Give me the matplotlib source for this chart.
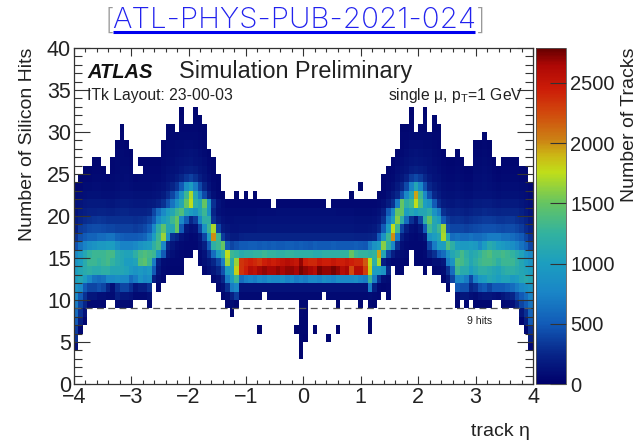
import numpy as np
import matplotlib
matplotlib.use("Agg")
import matplotlib.pyplot as plt
from matplotlib.colors import LinearSegmentedColormap, Normalize
from matplotlib.ticker import MultipleLocator

plt.rcParams['font.family'] = ['Liberation Sans', 'DejaVu Sans']
plt.rcParams['mathtext.fontset'] = 'custom'
plt.rcParams['mathtext.rm'] = 'Liberation Sans'
plt.rcParams['mathtext.it'] = 'Liberation Sans:italic'
plt.rcParams['mathtext.bf'] = 'Liberation Sans:bold'

_ = [0] * 10  # an empty decade of eta bins

# Tracks per (eta bin, hit count); eta bins are grouped in tens, from eta = -4 upward
hits3 = _*4 + [0,0,0,0,0,0,0,0,0,40] + _*5
hits4 = [100,0,0,0,0,0,0,0,0,0] + _*3 + [0,0,0,0,0,0,0,0,0,40] + _*4 + [0,0,0,0,0,0,0,0,0,60]
hits5 = [300,0,0,0,0,0,0,0,0,0] + _*3 + [0,0,0,0,0,0,0,0,0,50] + [40,0,0,0,0,40,0,0,0,0] + _*3 + [0,0,0,0,0,0,0,0,0,200]
hits6 = [350,60,0,0,0,0,0,0,0,0] + _*3 + [40,0,0,0,0,0,0,0,40,50] + [50,0,40,0,0,0,0,40,0,0] + [0,0,0,0,40,0,0,0,0,0] + _*2 + [0,0,0,0,0,0,0,0,50,300]
hits7 = [500,200,60,0,0,0,0,0,0,0] + _*3 + [0,0,0,0,0,0,0,0,0,50] + [50,0,0,0,0,0,0,0,0,0] + [0,0,0,0,40,0,0,0,0,0] + _*2 + [0,0,0,0,0,0,0,50,200,500]
hits8 = [600,300,120,0,0,0,0,0,0,0] + _*2 + [0,0,0,0,50,0,0,0,0,0] + [0,0,0,0,0,0,0,0,0,60] + [50,0,0,0,0,0,0,0,0,0] + _*3 + [0,0,0,0,0,0,0,150,300,550]
hits9 = [700,400,250,70,70,70,60,0,0,70] + [70,70,60,0,0,0,60,0,0,0] + _ + [0,0,0,50,80,50,0,0,0,0] + [0,0,0,0,0,0,0,0,0,70] + [70,0,0,0,0,0,0,50,0,0] + [0,0,50,0,60,50,0,0,0,0] + _ + [0,0,0,60,0,60,0,50,50,50] + [50,0,0,60,70,100,250,400,500,650]
hits10 = [800,500,300,150,150,100,100,80,80,200] + [150,150,120,70,70,70,100,0,0,0] + _ + [0,0,50,80,200,350,70,70,70,70] + [70,0,70,70,70,70,70,70,70,70] + [70,70,70,70,0,70,70,70,70,70] + [70,70,70,70,80,70,60,0,50,0] + _ + [0,0,0,100,150,150,100,80,120,150] + [150,120,100,150,200,250,400,500,600,750]
hits11 = [900,800,500,400,400,450,400,250,100,300] + [400,400,300,150,200,200,300,0,60,0] + _ + [0,60,100,300,700,800,120,120,130,120] + [130,120,130,130,130,130,120,120,120,120] + [120,120,120,120,120,120,120,120,120,120] + [120,130,130,120,700,200,60,50,60,0] + _ + [0,50,0,500,450,450,250,300,450,500] + [400,500,500,500,550,600,700,800,850,900]
hits12 = [1000,1100,1000,800,650,600,650,800,800,850] + [800,800,600,700,900,800,850,200,100,60] + _ + [70,100,250,700,1000,1300,600,700,750,700] + [800,750,850,800,800,850,750,800,700,750] + [700,800,800,750,850,800,750,850,800,800] + [800,850,750,700,1300,700,300,100,80,0] + _ + [50,150,400,800,850,700,400,750,950,1000] + [1100,1050,1000,1050,1050,950,1000,1100,1150,1100]
hits13 = [1000,1100,1150,1200,1150,1150,1200,1200,1100,1100] + [1100,1050,950,900,950,900,950,500,150,70] + [60,50,50,50,0,0,0,0,60,100] + [150,250,450,1000,1100,1800,2350,2450,2600,2550] + [2650,2700,2650,2650,2700,2650,2700,2700,2650,2750] + [2700,2650,2600,2750,2700,2700,2750,2700,2600,2650] + [2250,2600,2600,2300,1800,1000,1000,900,250,0] + [60,60,0,0,0,0,50,0,50,60] + [80,300,600,1300,1150,1150,1000,1100,1200,1200] + [1150,1100,1050,1150,1200,1200,1150,1100,1050,1000]
hits14 = [900,1000,1150,1300,1300,1250,1300,1350,1250,1150] + [1100,1000,1000,1050,1400,1450,1300,700,200,80] + [70,60,60,60,0,0,0,60,100,150] + [250,400,700,1650,1150,1650,2350,2400,2450,2400] + [2350,2450,2500,2450,2500,2550,2600,2550,2500,2700] + [2450,2400,2400,2500,2450,2450,2500,2450,2450,2500] + [2450,2400,2400,2200,1750,1200,1700,200,100,60] + [70,60,50,0,50,50,60,60,100,100] + [150,700,900,1400,1350,1250,1100,1200,1300,1350] + [1350,1300,1200,1300,1300,1300,1200,1100,1000,900]
hits15 = [800,950,1100,1250,1300,1300,1300,1350,1350,1150] + [1100,1050,1050,1200,1350,1400,1350,1300,900,500] + [150,100,70,60,50,50,0,70,120,300] + [600,1000,1200,1750,1300,1250,1150,1200,1200,1250] + [1250,1300,1250,1250,1200,1200,1250,1250,1200,1200] + [1200,1200,1150,1150,1200,1200,1200,1200,1250,1250] + [1500,1300,1250,1250,1200,1250,1950,1100,400,200] + [100,80,70,0,50,50,70,200,300,500] + [600,900,1100,1200,1350,1200,1100,1150,1250,1350] + [1400,1300,1300,1350,1300,1250,1150,1050,900,800]
hits16 = [450,650,750,850,900,950,950,1000,1000,850] + [750,750,750,800,900,950,1000,1200,1350,800] + [250,150,90,70,60,60,60,100,200,500] + [1200,1300,1500,500,400,450,500,500,520,520] + [500,520,500,520,500,500,520,520,500,520] + [500,480,520,500,500,500,520,500,500,500] + [500,520,500,480,700,900,1000,1600,1200,800] + [300,100,70,60,60,60,70,400,700,1000] + [1000,1400,1200,1000,950,950,1000,950,800,1000] + [1150,1100,1000,950,900,850,750,650,550,400]
hits17 = [300,450,500,550,550,600,600,650,650,550] + [520,500,500,500,520,560,700,1000,1300,1650] + [900,300,250,120,80,60,70,150,400,1000] + [2000,1300,350,220,180,180,220,230,230,230] + [230,230,230,230,230,230,230,230,230,230] + [230,230,230,230,230,230,230,230,230,230] + [230,220,220,220,230,260,500,900,1300,2000] + [700,200,100,70,60,80,150,900,1000,1100] + [1700,1100,600,650,600,600,650,600,600,650] + [700,700,700,650,650,600,550,500,400,300]
hits18 = [200,350,380,420,430,430,420,400,400,380] + [380,380,380,350,380,420,500,800,1200,1450] + [1100,1100,1500,500,150,100,130,400,900,1300] + [1700,400,180,150,130,130,140,140,140,140] + [150,150,150,150,150,150,150,150,150,150] + [150,150,150,150,150,150,150,150,150,150] + [150,140,140,140,150,170,250,500,1000,1750] + [1300,400,200,100,80,150,500,1300,1100,1300] + [1650,450,400,400,400,380,400,420,430,450] + [450,450,430,420,430,430,400,350,280,220]
hits19 = [180,250,280,300,320,330,320,300,300,300] + [300,300,300,290,300,320,380,500,800,1000] + [1100,1300,1500,800,500,250,350,800,1200,1200] + [300,180,120,100,100,110,110,110,110,110] + [120,120,120,120,130,130,130,130,130,130] + [130,130,130,130,130,130,130,120,120,120] + [120,110,110,110,110,120,160,300,700,1000] + [1600,1200,600,300,150,400,1200,1500,1100,1000] + [500,350,300,310,300,280,300,320,330,350] + [350,340,320,320,330,330,300,280,230,170]
hits20 = [130,180,200,220,220,230,230,220,210,230] + [240,240,220,220,220,220,250,400,600,800] + [1000,1100,1300,1400,1100,1000,900,1100,1300,900] + [250,110,90,80,80,80,80,80,80,80] + [90,90,90,90,100,100,100,100,100,100] + [100,100,100,100,100,100,100,90,90,90] + [90,80,80,80,80,90,110,200,500,800] + [1500,1500,1000,1100,1000,1100,1100,1200,900,700] + [300,250,220,230,220,200,220,250,250,270] + [260,240,230,240,240,250,240,210,170,130]
hits21 = [120,140,160,170,170,170,170,160,150,170] + [180,180,170,160,160,160,170,180,220,300] + [450,650,900,1100,1500,1750,1200,1100,1500,900] + [300,120,80,60,60,60,60,60,60,60] + [60,60,60,0,60,60,60,60,60,60] + [60,60,60,60,60,0,60,60,60,60] + [60,60,60,60,60,60,70,100,180,300] + [700,1500,1200,1300,1750,1400,1000,900,500,280] + [180,160,150,170,160,150,160,180,180,190] + [190,170,160,170,170,170,170,150,130,100]
hits22 = [80,90,100,110,110,110,100,100,100,110] + [120,120,120,110,110,110,110,120,140,180] + [280,400,600,900,1300,1700,1100,700,420,220] + [100,60,50,0,0,50,0,50,0,50] + _*2 + [50,0,0,0,0,0,50,60,100,170] + [260,450,800,1100,1950,1300,800,450,260,180] + [120,110,110,120,110,100,100,120,120,130] + [130,110,100,110,110,110,110,100,90,70]
hits23 = [50,60,80,80,90,90,80,80,80,90] + [100,100,90,80,80,80,80,90,100,120] + [170,230,320,500,850,1000,700,420,250,130] + [70,50,0,0,0,0,0,0,0,0] + _*2 + [0,0,50,0,0,0,0,50,70,100] + [170,260,420,750,1100,800,450,260,180,140] + [100,90,90,100,90,80,80,100,100,110] + [100,90,80,90,90,90,90,80,80,60]
hits24 = [0,50,60,60,70,70,70,60,70,80] + [80,90,80,60,70,70,70,70,70,90] + [120,140,180,250,320,380,300,200,140,90] + [60,50,0,0,0,0,0,0,0,0] + _*2 + [0,0,0,0,0,0,0,50,60,70] + [110,150,220,350,420,350,260,170,130,110] + [80,70,70,80,70,60,60,90,90,100] + [90,70,60,70,70,70,70,60,60,0]
hits25 = [0,0,50,50,60,60,50,0,60,70] + [80,80,70,0,0,60,60,60,60,80] + [100,110,130,160,190,200,180,140,110,70] + [50,0,0,0,0,0,0,0,0,0] + _*2 + [0,0,0,0,0,0,0,0,50,60] + [90,110,140,190,210,190,170,130,110,90] + [70,60,60,70,60,50,50,80,80,90] + [80,60,50,60,60,60,60,50,50,0]
hits26 = [0,0,0,0,50,50,0,0,60,70] + [70,70,60,0,50,50,50,50,50,70] + [80,90,110,120,140,150,130,110,90,60] + [50,0,0,0,0,0,0,0,0,0] + _*2 + [0,0,0,0,0,0,0,0,0,50] + [70,90,110,140,150,140,130,110,90,80] + [60,50,50,60,50,0,0,70,70,80] + [70,50,0,50,50,50,50,0,0,0]
hits27 = [0,0,0,0,0,0,0,0,0,60] + [70,60,50,0,0,0,0,0,0,60] + [70,80,90,100,110,120,110,90,70,50] + _*4 + [50,70,90,110,120,110,100,100,80,70] + [50,0,0,50,0,0,0,60,60,70] + [60,0,0,0,0,0,0,0,0,0]
hits28 = [0,0,0,0,0,0,0,0,0,50] + [60,50,0,0,0,0,0,0,0,50] + [70,70,80,80,90,90,80,70,60,0] + _*4 + [0,60,70,90,90,90,80,80,70,60] + [0,0,0,0,0,0,0,50,50,60] + [50,0,0,0,0,0,0,0,0,0]
hits29 = _ + [60,0,0,0,0,0,0,0,0,0] + [50,60,60,70,70,70,70,60,50,0] + _*4 + [0,60,60,70,70,70,70,70,60,60] + [0,0,0,0,0,0,0,0,0,50] + _
hits30 = _ + [50,0,0,0,0,0,0,0,0,0] + [50,50,0,60,60,60,60,50,50,0] + _*4 + [0,50,50,60,0,60,60,0,50,50] + _*2
hits31 = _*2 + [0,0,0,50,0,0,50,50,0,0] + _*4 + [0,0,0,50,0,0,50,0,50,0] + _*2
hits32 = _*2 + [0,0,0,40,0,0,40,0,0,0] + _*4 + [0,0,0,40,0,0,40,0,0,0] + _*2

rows = [hits3, hits4, hits5, hits6, hits7, hits8, hits9, hits10, hits11, hits12, hits13,
        hits14, hits15, hits16, hits17, hits18, hits19, hits20, hits21, hits22, hits23,
        hits24, hits25, hits26, hits27, hits28, hits29, hits30, hits31, hits32]
for n, r in enumerate(rows):
    assert len(r) == 100, (n + 3, len(r))

first_hit_bin = 3
eta_edges = np.linspace(-4, 4, 101)
hit_edges = np.arange(first_hit_bin, first_hit_bin + len(rows) + 1)
counts = np.ma.masked_equal(np.array(rows, dtype=float), 0)

eta_ticks = [-4, -3, -2, -1, 0, 1, 2, 3, 4]
hit_ticks = [0, 5, 10, 15, 20, 25, 30, 35, 40]
bar_ticks = [0, 500, 1000, 1500, 2000, 2500]
z_max = 2790
hit_cut = 9

palette = [(0.00, (0.00, 0.00, 0.42)), (0.09, (0.03, 0.15, 0.54)), (0.18, (0.07, 0.36, 0.72)),
           (0.27, (0.10, 0.52, 0.78)), (0.36, (0.11, 0.62, 0.75)), (0.45, (0.20, 0.70, 0.62)),
           (0.54, (0.40, 0.77, 0.38)), (0.63, (0.75, 0.87, 0.10)), (0.68, (0.80, 0.72, 0.08)),
           (0.73, (0.80, 0.50, 0.08)), (0.81, (0.82, 0.28, 0.05)), (0.88, (0.80, 0.11, 0.03)),
           (0.95, (0.68, 0.03, 0.02)), (1.00, (0.40, 0.00, 0.00))]
cmap = LinearSegmentedColormap.from_list('root_pal', palette, N=256)
norm = Normalize(0, z_max)

W, H = 644, 442
fig = plt.figure(figsize=(W / 100, H / 100), dpi=100)

def rect(x0, y0, x1, y1):
    return [x0 / W, 1 - y1 / H, (x1 - x0) / W, (y1 - y0) / H]

def fx(x):
    return x / W

def fy(y):
    return 1 - y / H

ax = fig.add_axes(rect(73.7, 48, 533, 384))
mesh = ax.pcolormesh(eta_edges, hit_edges, counts, cmap=cmap, norm=norm, linewidth=0, rasterized=True)
ax.set_xlim(-4, 4)
ax.set_ylim(0, 40)
ax.plot([-4, 4], [hit_cut, hit_cut], color='#555555', lw=0.9, dashes=(5.5, 3.5))
ax.set_xticks(eta_ticks)
ax.set_yticks(hit_ticks)
ax.xaxis.set_minor_locator(MultipleLocator(0.2))
ax.yaxis.set_minor_locator(MultipleLocator(1))
edge = '#333333'
ax.tick_params(axis='x', which='major', direction='in', top=True, bottom=True, length=6, width=0.8, color=edge, labelsize=15.5, pad=2)
ax.tick_params(axis='x', which='minor', direction='in', top=True, bottom=True, length=3, width=0.8, color=edge)
ax.tick_params(axis='y', which='major', direction='in', left=True, right=True, length=11.5, width=0.8, color=edge, labelsize=15.5, pad=2)
ax.tick_params(axis='y', which='minor', direction='in', left=True, right=True, length=5.7, width=0.8, color=edge)
for s in ax.spines.values():
    s.set_linewidth(0.9)
    s.set_color(edge)
for lab in ax.get_xticklabels() + ax.get_yticklabels():
    lab.set_color('#222222')

cax = fig.add_axes(rect(536, 48, 566, 384))
cb = fig.colorbar(mesh, cax=cax)
cb.set_ticks(bar_ticks)
cax.tick_params(axis='y', which='major', direction='in', right=True, length=11.5, width=0.8, color='#333333', labelsize=14.5, pad=3, labelcolor='#222222')
cb.outline.set_linewidth(0.6)
cb.outline.set_edgecolor('#555555')

ink = '#222222'
fig.text(fx(87), fy(78), 'ATLAS', fontsize=14.5, fontweight='bold', fontstyle='italic', color='#111111')
fig.text(fx(179), fy(78), 'Simulation Preliminary', fontsize=16.8, color=ink)
fig.text(fx(87), fy(100), 'ITk Layout: 23-00-03', fontsize=11.3, color=ink)
fig.text(fx(388), fy(100), r'single μ, p$_{\mathrm{T}}$=1 GeV', fontsize=11.3, color=ink)
fig.text(fx(467), fy(324.5), '9 hits', fontsize=7.6, color=ink)
fig.text(fx(530), fy(436), 'track η', fontsize=14, color=ink, ha='right')
fig.text(fx(27), fy(48), 'Number of Silicon Hits', fontsize=14, color=ink, rotation=90, ha='center', va='top')
fig.text(fx(629), fy(48), 'Number of Tracks', fontsize=14, color=ink, rotation=90, ha='center', va='top')

link_font = ['Inter', 'DejaVu Sans']
fig.text(fx(105), fy(28.5), '[', fontsize=21.3, color='#999999', family=link_font, fontweight='light')
fig.text(fx(112.5), fy(28.5), 'ATL-PHYS-PUB-2021-024', fontsize=21.3, color='#2222ee', family=link_font, fontweight='light')
fig.text(fx(476), fy(28.5), ']', fontsize=21.3, color='#999999', family=link_font, fontweight='light')
fig.add_artist(plt.Line2D([fx(113), fx(475)], [fy(31.5), fy(31.5)], color='#0000ee', lw=2.2, solid_capstyle='butt'))

fig.savefig('out.png', dpi=100)
